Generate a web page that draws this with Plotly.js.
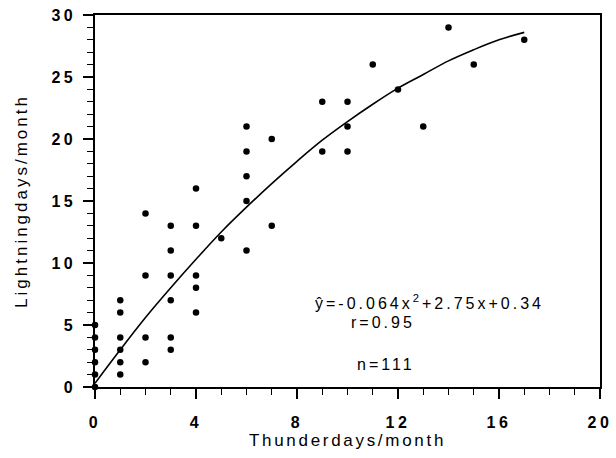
<!DOCTYPE html>
<html>
<head>
<meta charset="utf-8">
<script src="https://cdn.plot.ly/plotly-3.0.1.min.js"></script>
<style>
  html, body { margin: 0; padding: 0; background: #fff; }
  #chart { width: 616px; height: 458px; }
  .xtick text, .ytick text { letter-spacing: 3.5px; font-weight: bold !important; }
  .xtitle { letter-spacing: 2.7px; }
  .ytitle { letter-spacing: 3px; }
  .annotation-text { letter-spacing: 3px; }
</style>
</head>
<body>
<div id="chart"></div>
<script>
// Observed data points (thunderdays, lightningdays)
const thunderDays = [0,0,0,0,0,0, 1,1,1,1,1,1, 2,2,2,2, 3,3,3,3,3,3, 4,4,4,4,4, 5, 6,6,6,6,6, 7,7, 9,9, 10,10,10, 11, 12, 13, 14, 15, 17];
const lightningDays = [0,1,2,3,4,5, 7,6,4,3,2,1, 14,9,4,2, 13,11,9,7,4,3, 16,13,9,8,6, 12, 21,19,17,15,11, 20,13, 23,19, 23,21,19, 26, 24, 21, 29, 26, 28];

// Fitted curve
const fitX = [0,1,2,3,4,5,6,7,8,9,10,11,12,13,14,15,16,17];
const fitY = [0.3,3.0,5.6,8.0,10.3,12.5,14.5,16.4,18.2,19.9,21.4,22.8,24.1,25.2,26.3,27.2,28.0,28.6];

const xTickVals = [0,4,8,12,16,20];
const yTickVals = [0,5,10,15,20,25,30];

const fontFam = '"Liberation Sans", Arial, Helvetica, sans-serif';

const traces = [
  {
    x: fitX, y: fitY, type: 'scatter', mode: 'lines',
    line: {color: '#000', width: 1.6, shape: 'spline'},
    hoverinfo: 'skip', cliponaxis: false
  },
  {
    x: thunderDays, y: lightningDays, type: 'scatter', mode: 'markers',
    marker: {color: '#000', size: 6.5, symbol: 'circle'},
    cliponaxis: false
  }
];

const axisCommon = {
  showgrid: false, zeroline: false,
  showline: true, linecolor: '#000', linewidth: 1.6, mirror: true,
  ticks: 'outside', ticklen: 10, tickwidth: 1.3, tickcolor: '#000',
  tickfont: {family: fontFam, size: 16, color: '#000', weight: 700},
  fixedrange: true
};

const layout = {
  width: 616, height: 458,
  margin: {l: 95, r: 16, t: 15, b: 71},
  paper_bgcolor: '#fff', plot_bgcolor: '#fff',
  showlegend: false,
  font: {family: fontFam, color: '#000'},
  xaxis: Object.assign({}, axisCommon, {
    range: [0, 20], tickmode: 'array', tickvals: xTickVals,
    minor: {dtick: 1, ticks: 'outside', ticklen: 6, tickwidth: 1.2, tickcolor: '#000', showgrid: false},
    ticklabelstandoff: 10,
    title: {text: 'Thunderdays/month', font: {family: fontFam, size: 17, color: '#000'}, standoff: 4}
  }),
  yaxis: Object.assign({}, axisCommon, {
    range: [0, 30], tickmode: 'array', tickvals: yTickVals,
    minor: {dtick: 1, ticks: 'outside', ticklen: 6, tickwidth: 1.2, tickcolor: '#000', showgrid: false},
    ticklabelstandoff: 4,
    title: {text: 'Lightningdays/month', font: {family: fontFam, size: 17, color: '#000'}, standoff: 19}
  }),
  annotations: [
    {x: 8.65, y: 6.85, xref: 'x', yref: 'y', xanchor: 'left', yanchor: 'middle', showarrow: false,
     text: 'ŷ=-0.064x<sup>2</sup>+2.75x+0.34', font: {family: fontFam, size: 16, color: '#000'}},
    {x: 10.05, y: 5.2, xref: 'x', yref: 'y', xanchor: 'left', yanchor: 'middle', showarrow: false,
     text: 'r=0.95', font: {family: fontFam, size: 16, color: '#000'}},
    {x: 10.3, y: 1.85, xref: 'x', yref: 'y', xanchor: 'left', yanchor: 'middle', showarrow: false,
     text: 'n=111', font: {family: fontFam, size: 16, color: '#000'}}
  ]
};

Plotly.newPlot('chart', traces, layout, {displayModeBar: false, staticPlot: true});
</script>
</body>
</html>
